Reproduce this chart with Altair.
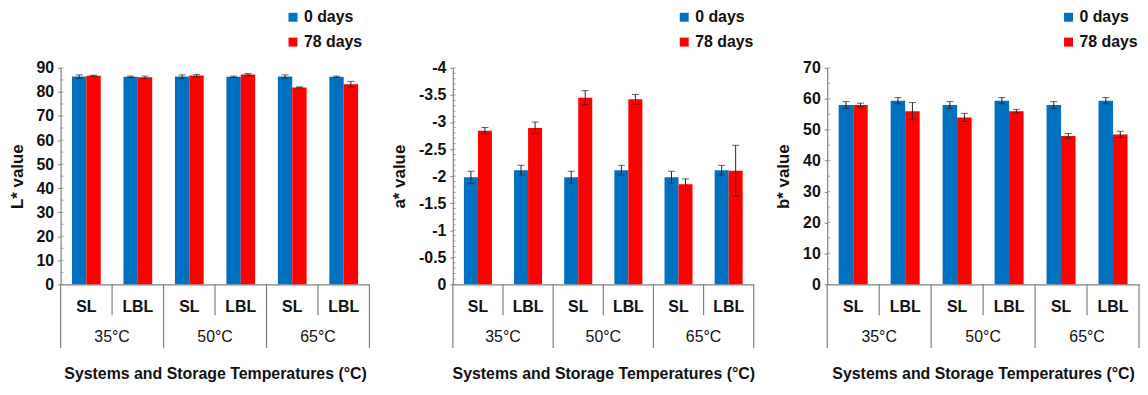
import altair as alt
import pandas as pd

# ---------------- data ----------------
categories = ["35°C SL", "35°C LBL", "50°C SL", "50°C LBL", "65°C SL", "65°C LBL"]
temp_labels = ["35°C", "50°C", "65°C"]
temp_anchor = ["35°C LBL", "50°C LBL", "65°C LBL"]
group_starts = ["35°C SL", "50°C SL", "65°C SL"]
group_end = ["65°C LBL"]
day_labels = ["0 days", "78 days"]
colors = ["#0070C0", "#FF0000"]

L_0 = [86.4, 86.3, 86.4, 86.3, 86.4, 86.3]
L_0_err = [0.7, 0.3, 0.7, 0.3, 0.7, 0.3]
L_78 = [86.7, 86.1, 86.8, 87.3, 81.9, 83.2]
L_78_err = [0.2, 0.5, 0.5, 0.4, 0.2, 1.2]

a_0 = [-1.98, -2.11, -1.98, -2.11, -1.98, -2.11]
a_0_err = [0.11, 0.09, 0.11, 0.09, 0.11, 0.09]
a_78 = [-2.84, -2.89, -3.45, -3.42, -1.85, -2.10]
a_78_err = [0.06, 0.11, 0.13, 0.09, 0.10, 0.47]

b_0 = [58.0, 59.4, 58.0, 59.4, 58.0, 59.4]
b_0_err = [1.1, 1.0, 1.1, 1.0, 1.1, 1.0]
b_78 = [58.0, 56.0, 54.0, 56.0, 48.0, 48.5]
b_78_err = [0.6, 2.8, 1.3, 0.6, 0.8, 1.0]

L_major = [0, 10, 20, 30, 40, 50, 60, 70, 80, 90]
L_minor = [5, 15, 25, 35, 45, 55, 65, 75, 85]
a_major = [0, -0.5, -1, -1.5, -2, -2.5, -3, -3.5, -4]
a_minor = [round(-0.1 * i, 1) for i in range(1, 40) if i % 5 != 0]
b_major = [0, 10, 20, 30, 40, 50, 60, 70]
b_minor = [5, 15, 25, 35, 45, 55, 65]

FONT = "Liberation Sans"
GRAY = "#808080"
X_TITLE = "Systems and Storage Temperatures (°C)"


def make_panel(v0, e0, v78, e78, ytitle, ydomain, major, minor, reverse, w, h, lx, label_expr):
    rows = []
    for i, c in enumerate(categories):
        rows.append(dict(cat=c, day=day_labels[0], value=v0[i], lo=v0[i] - e0[i], hi=v0[i] + e0[i]))
        rows.append(dict(cat=c, day=day_labels[1], value=v78[i], lo=v78[i] - e78[i], hi=v78[i] + e78[i]))
    df = pd.DataFrame(rows)

    xscale = alt.Scale(domain=categories, paddingInner=0, paddingOuter=0)
    x_axis = alt.Axis(
        title=X_TITLE, titleFont=FONT, titleFontSize=16, titleFontWeight="bold",
        titleColor="#111", titlePadding=52,
        labelExpr="split(datum.label, ' ')[1]", labelAngle=0, labelFont=FONT,
        labelFontSize=16, labelFontWeight="bold", labelColor="#111", labelPadding=14,
        ticks=False, domainColor=GRAY, domainWidth=1.2,
    )

    def X(bp=None):
        if bp is None:
            return alt.X("cat:N", sort=categories, scale=xscale, axis=x_axis)
        return alt.X("cat:N", sort=categories, scale=xscale, axis=x_axis, bandPosition=bp)

    xoff = alt.XOffset("day:N", sort=day_labels,
                       scale=alt.Scale(domain=day_labels, paddingInner=0, paddingOuter=0.79))
    yscale = alt.Scale(domain=ydomain, nice=False, zero=True, reverse=reverse)
    y_axis = alt.Axis(
        values=major, title=ytitle, titleFont=FONT, titleFontSize=17, titleFontWeight="bold",
        titleColor="#111", titlePadding=10, labelFont=FONT, labelFontSize=16,
        labelFontWeight="bold", labelColor="#111", labelPadding=4, tickSize=3,
        tickColor=GRAY, domainColor=GRAY, domainWidth=1.2, grid=False,
        labelExpr=label_expr,
    )

    def Y(field):
        return alt.Y(field, scale=yscale, axis=y_axis, title=ytitle)

    base = alt.Chart(df)
    bars = base.mark_bar().encode(
        x=X(), xOffset=xoff, y=Y("value:Q"),
        color=alt.Color("day:N", sort=day_labels,
                        scale=alt.Scale(domain=day_labels, range=colors),
                        legend=alt.Legend(
                            orient="none", legendX=lx, legendY=-59, title=None,
                            symbolType="square", symbolSize=81, symbolStrokeWidth=0,
                            labelFont=FONT, labelFontSize=16, labelFontWeight="bold",
                            labelColor="#111", rowPadding=9, padding=0, labelOffset=3,
                        )),
    )
    err_rule = base.mark_rule(color="#222", strokeWidth=1).encode(
        x=X(), xOffset=xoff, y=Y("lo:Q"), y2="hi:Q")
    cap_lo = base.mark_tick(color="#222", orient="horizontal", size=7, thickness=1).encode(
        x=X(), xOffset=xoff, y=Y("lo:Q"))
    cap_hi = base.mark_tick(color="#222", orient="horizontal", size=7, thickness=1).encode(
        x=X(), xOffset=xoff, y=Y("hi:Q"))

    ticks_df = pd.DataFrame({"value": major + minor})
    inner_ticks = alt.Chart(ticks_df).mark_tick(
        color=GRAY, orient="horizontal", size=3, thickness=1).encode(
        x=alt.value(1.5), y=Y("value:Q"))

    minor_sep = alt.Chart(pd.DataFrame({"cat": temp_anchor})).mark_rule(
        color=GRAY, strokeWidth=1.2).encode(
        x=X(0), y=alt.value(h), y2=alt.value(h + 31))
    major_sep = alt.Chart(pd.DataFrame({"cat": group_starts})).mark_rule(
        color=GRAY, strokeWidth=1.2).encode(
        x=X(0), y=alt.value(h), y2=alt.value(h + 64))
    end_sep = alt.Chart(pd.DataFrame({"cat": group_end})).mark_rule(
        color=GRAY, strokeWidth=1.2).encode(
        x=X(1), y=alt.value(h), y2=alt.value(h + 64))
    temps = alt.Chart(pd.DataFrame({"cat": temp_anchor, "t": temp_labels})).mark_text(
        font=FONT, fontSize=16, color="#111", baseline="middle", align="center").encode(
        x=X(0), y=alt.value(h + 53), text="t:N")

    return alt.layer(bars, err_rule, cap_lo, cap_hi, inner_ticks,
                     minor_sep, major_sep, end_sep, temps).properties(width=w, height=h)


p1 = make_panel(L_0, L_0_err, L_78, L_78_err, "L* value", [0, 90], L_major, L_minor,
                False, 311, 218, 226, "datum.label")
p2 = make_panel(a_0, a_0_err, a_78, a_78_err, "a* value", [-4, 0], a_major, a_minor,
                True, 303, 218, 225, "replace(format(datum.value, '~g'), '\u2212', '-')")
p3 = make_panel(b_0, b_0_err, b_78, b_78_err, "b* value", [0, 70], b_major, b_minor,
                False, 314, 218, 235, "datum.label")

chart = alt.hconcat(p1, p2, p3, spacing=20).resolve_scale(
    x="independent", y="independent", color="independent", xOffset="independent"
).properties(padding=0, background="white").configure_view(stroke=None)

chart.save("out.html", embed_options={"renderer": "svg", "actions": False})
